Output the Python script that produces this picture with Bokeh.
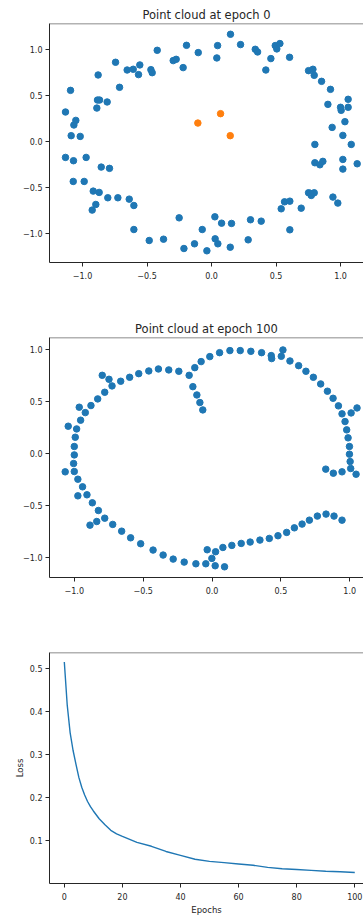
from bokeh.plotting import figure
from bokeh.layouts import column
from bokeh.models import FixedTicker, Range1d, Span
from bokeh.embed import file_html
from bokeh.resources import INLINE

BLUE = "#1f77b4"
ORANGE = "#ff7f0e"

# ---- Data: point cloud at epoch 0 ----
cloud0_x = [0.147, -0.194, 0.047, 0.225, -0.421, -0.103, 0.339, 0.357, 0.494, 0.530,
            0.506, 0.605, 0.460, 0.041, -0.220, -0.297, -0.274, -0.744, -0.654, -0.607,
            -0.556, -0.566, -0.470, -0.460, -0.879, -0.713, 0.421, 0.752, 0.786, 0.796,
            0.853, 0.922, 0.902, 1.000, 1.005, 1.059, 1.059, 1.034, 0.935, 1.018,
            1.083, 0.801, 0.801, 0.840, 0.863, 1.018, 1.018, 1.129, -1.093, -1.132,
            -0.868, -0.884, -0.809, -0.889, -1.052, -1.067, -1.088, -1.018, -1.132, -1.070,
            -0.972, -0.855, -0.791, -1.072, -0.987, -0.917, -0.871, -0.897, -0.925, -0.804,
            -0.726, -0.638, -0.602, -0.602, -0.483, -0.372, -0.251, -0.214, -0.132, -0.072,
            -0.036, 0.026, 0.028, 0.049, 0.078, 0.155, 0.145, 0.302, 0.385, 0.284,
            0.540, 0.566, 0.607, 0.607, 0.695, 0.752, 0.773, 0.796, 0.767, 0.941, 0.979]
cloud0_y = [1.163, 1.043, 1.040, 1.051, 0.989, 0.964, 1.000, 0.971, 1.040, 1.062,
            1.004, 0.913, 0.899, 0.906, 0.801, 0.877, 0.891, 0.859, 0.775, 0.783,
            0.830, 0.725, 0.779, 0.746, 0.721, 0.587, 0.775, 0.768, 0.783, 0.717,
            0.652, 0.565, 0.402, 0.370, 0.337, 0.370, 0.457, 0.214, 0.152, 0.065,
            -0.033, -0.033, -0.232, -0.254, -0.217, -0.196, -0.301, -0.243, 0.554, 0.319,
            0.449, 0.449, 0.428, 0.362, 0.228, 0.178, 0.062, 0.054, -0.174, -0.210,
            -0.174, -0.279, -0.293, -0.435, -0.435, -0.540, -0.554, -0.685, -0.746, -0.612,
            -0.612, -0.627, -0.696, -0.957, -1.076, -1.062, -0.830, -1.163, -1.112, -0.957,
            -1.188, -0.819, -1.058, -1.112, -0.888, -0.891, -1.149, -0.851, -0.866, -1.069,
            -0.732, -0.656, -0.649, -0.960, -0.725, -0.558, -0.587, -0.558, -0.565, -0.605, -0.670]
centers_x = [-0.106, 0.070, 0.145]
centers_y = [0.199, 0.301, 0.062]

# ---- Data: point cloud at epoch 100 ----
cloud100_x = [0.130, 0.205, 0.282, 0.360, 0.430, 0.433, 0.515, 0.503, 0.566, 0.629,
              0.682, 0.736, 0.789, 0.838, 0.879, 0.918, 0.944, 0.966, 0.978, 0.988,
              0.998, 0.998, 1.003, 1.007, 1.046, 0.944, 0.881, 0.826, 1.010, 1.053,
              0.055, -0.016, -0.079, -0.125, -0.166, -0.139, -0.110, -0.088, -0.067, -0.241,
              -0.314, -0.389, -0.459, -0.532, -0.598, -0.663, -0.726, -0.748, -0.797, -0.779,
              -0.830, -0.879, -0.920, -0.964, -0.954, -0.983, -0.993, -1.000, -1.000, -1.005,
              -1.000, -1.044, -1.066, -0.974, -0.940, -0.974, -0.908, -0.869, -0.825, -0.837,
              -0.779, -0.886, -0.721, -0.656, -0.591, -0.518, -0.428, -0.355, -0.282, -0.202,
              -0.117, -0.045, 0.023, 0.091, -0.001, 0.026, -0.035, 0.079, 0.144, 0.212,
              0.277, 0.348, 0.416, 0.479, 0.542, 0.598, 0.654, 0.707, 0.765, 0.828, 0.886, 0.944]
cloud100_y = [0.994, 0.994, 0.987, 0.974, 0.946, 0.917, 1.000, 0.939, 0.894, 0.849,
              0.795, 0.737, 0.673, 0.603, 0.535, 0.462, 0.385, 0.311, 0.231, 0.154,
              0.071, -0.003, -0.074, -0.141, -0.196, -0.173, -0.186, -0.147, 0.394, 0.442,
              0.974, 0.936, 0.888, 0.830, 0.756, 0.647, 0.567, 0.494, 0.423, 0.795,
              0.808, 0.817, 0.798, 0.772, 0.737, 0.699, 0.654, 0.718, 0.756, 0.593,
              0.529, 0.465, 0.397, 0.449, 0.324, 0.240, 0.160, 0.071, -0.010, -0.093,
              -0.170, 0.266, -0.173, -0.244, -0.317, -0.404, -0.394, -0.471, -0.545, -0.651,
              -0.619, -0.686, -0.679, -0.744, -0.808, -0.865, -0.926, -0.974, -1.013, -1.042,
              -1.058, -1.058, -1.077, -1.087, -1.006, -0.942, -0.923, -0.901, -0.881, -0.862,
              -0.849, -0.830, -0.814, -0.788, -0.756, -0.712, -0.676, -0.638, -0.599, -0.580, -0.599, -0.638]

# ---- Data: loss curve ----
epochs = [0, 1, 2, 3, 4, 5, 6, 7, 8, 9, 10, 12, 14, 16, 18, 20, 25, 30, 35, 40,
          45, 50, 55, 60, 65, 70, 75, 80, 85, 90, 95, 100]
loss = [0.515, 0.415, 0.351, 0.310, 0.278, 0.247, 0.224, 0.206, 0.191, 0.179, 0.169,
        0.151, 0.137, 0.124, 0.116, 0.110, 0.096, 0.087, 0.075, 0.066,
        0.057, 0.052, 0.049, 0.046, 0.043, 0.038, 0.035, 0.033, 0.031, 0.029, 0.028, 0.026]

# ---- Tick labels ----
cloud_ticks = [-1.0, -0.5, 0.0, 0.5, 1.0]
cloud_tick_labels = ["\u22121.0", "\u22120.5", "0.0", "0.5", "1.0"]
epoch_ticks = [0, 20, 40, 60, 80, 100]
epoch_tick_labels = ["0", "20", "40", "60", "80", "100"]
loss_ticks = [0.1, 0.2, 0.3, 0.4, 0.5]
loss_tick_labels = ["0.1", "0.2", "0.3", "0.4", "0.5"]

FONT = "DejaVu Sans"
INK = "#262626"


def style(p, xt, xl, yt, yl, ytop):
    p.xgrid.visible = False
    p.ygrid.visible = False
    p.outline_line_color = None
    xa = p.below[0]
    ya = p.left[0]
    xa.ticker = FixedTicker(ticks=xt)
    xa.major_label_overrides = {t: l for t, l in zip(xt, xl)}
    ya.ticker = FixedTicker(ticks=yt)
    ya.major_label_overrides = {t: l for t, l in zip(yt, yl)}
    for ax in (xa, ya):
        ax.axis_line_color = INK
        ax.axis_line_width = 1
        ax.major_tick_line_color = INK
        ax.major_tick_in = 0
        ax.major_tick_out = 4
        ax.minor_tick_line_color = None
        ax.major_label_text_font = FONT
        ax.major_label_text_font_size = "8px"
        ax.major_label_text_color = INK
        ax.axis_label_text_font = FONT
        ax.axis_label_text_font_size = "8.5px"
        ax.axis_label_text_font_style = "normal"
        ax.axis_label_text_color = INK
        ax.axis_label_standoff = 2
    xa.major_label_standoff = 5
    ya.major_label_standoff = 3
    p.add_layout(Span(location=ytop, dimension="width", line_color="#666666", line_width=1.3))
    if p.title is not None and p.title.text:
        p.title.text_font = FONT
        p.title.text_font_size = "11.5px"
        p.title.text_font_style = "normal"
        p.title.text_color = INK
        p.title.align = "center"
        p.title.standoff = 3
        p.title.offset = 4


p1 = figure(width=363, height=300, output_backend="svg", toolbar_location=None,
            title="Point cloud at epoch 0",
            x_range=Range1d(-1.256, 1.178), y_range=Range1d(-1.315, 1.28),
            min_border_left=49, min_border_right=0, min_border_top=23, min_border_bottom=38)
p1.scatter(cloud0_x, cloud0_y, size=6.5, color=BLUE)
p1.scatter(centers_x, centers_y, size=6.5, color=ORANGE)
style(p1, cloud_ticks, cloud_tick_labels, cloud_ticks, cloud_tick_labels, 1.28)

p2 = figure(width=363, height=310, output_backend="svg", toolbar_location=None,
            title="Point cloud at epoch 100",
            x_range=Range1d(-1.18, 1.10), y_range=Range1d(-1.19, 1.12),
            min_border_left=49, min_border_right=0, min_border_top=37, min_border_bottom=33)
p2.scatter(cloud100_x, cloud100_y, size=6.5, color=BLUE)
style(p2, cloud_ticks, cloud_tick_labels, cloud_ticks, cloud_tick_labels, 1.12)

p3 = figure(width=363, height=307, output_backend="svg", toolbar_location=None,
            x_range=Range1d(-5.1, 103), y_range=Range1d(0.0006, 0.537),
            x_axis_label="Epochs", y_axis_label="Loss",
            min_border_left=46, min_border_right=0, min_border_top=42, min_border_bottom=25)
p3.line(epochs, loss, line_width=1.4, color=BLUE)
style(p3, epoch_ticks, epoch_tick_labels, loss_ticks, loss_tick_labels, 0.537)

layout = column(p1, p2, p3, spacing=0)
open("out.html", "w").write(file_html(layout, INLINE))
